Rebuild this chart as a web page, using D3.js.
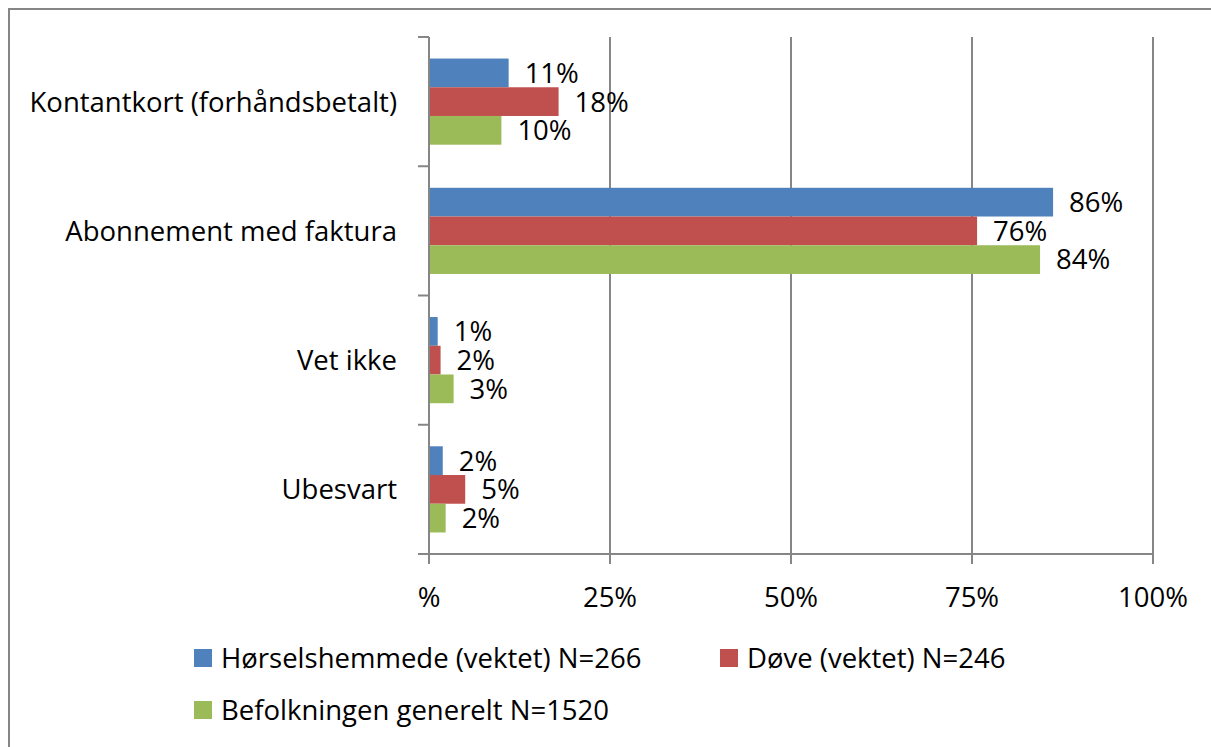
<!DOCTYPE html>
<html>
<head>
<meta charset="utf-8">
<script src="https://cdn.jsdelivr.net/npm/d3@7"></script>
<style>
  body { margin: 0; background: #fff; }
  text { font-family: "Open Sans", Lato, sans-serif; fill: #000; }
</style>
</head>
<body>
<div id="root"></div>
<script>
const categories = ['Kontantkort (forhåndsbetalt)', 'Abonnement med faktura', 'Vet ikke', 'Ubesvart']
const seriesNames = ['Hørselshemmede (vektet) N=266', 'Døve (vektet) N=246', 'Befolkningen generelt N=1520']
const seriesColors = ['#4F81BD', '#C0504D', '#9BBB59']
const horsel = [11.0, 86.2, 1.2, 1.9]
const dove = [17.9, 75.7, 1.6, 5.0]
const befolkning = [10.0, 84.4, 3.4, 2.3]
const xTicks = [0, 25, 50, 75, 100]
const xTickLabels = ['%', '25%', '50%', '75%', '100%']

const values = [horsel, dove, befolkning]

const width = 1211
const height = 747
const margin = { top: 37, right: 58, bottom: 193, left: 429 }
const fontSize = 27.5

const svg = d3.select('#root').append('svg')
  .attr('width', width)
  .attr('height', height)

// outer frame
svg.append('rect')
  .attr('x', 9).attr('y', 9)
  .attr('width', 1230).attr('height', 780)
  .attr('fill', 'none')
  .attr('stroke', '#868686')
  .attr('stroke-width', 2)

const x = d3.scaleLinear().domain([0, 100]).range([margin.left, width - margin.right])
const y = d3.scaleBand().domain(categories).range([margin.top, height - margin.bottom])
const ySub = d3.scaleBand().domain(d3.range(3)).range([0, y.bandwidth()]).paddingOuter(0.75)

const grid = '#868686'

// vertical gridlines
svg.append('g')
  .selectAll('line')
  .data(xTicks.slice(1))
  .join('line')
  .attr('x1', d => x(d)).attr('x2', d => x(d))
  .attr('y1', margin.top).attr('y2', y.range()[1] + 10)
  .attr('stroke', grid).attr('stroke-width', 2)

// bars
const rows = []
categories.forEach((c, i) => values.forEach((s, j) => rows.push({ c, j, v: s[i] })))

svg.append('g')
  .selectAll('rect')
  .data(rows)
  .join('rect')
  .attr('x', x(0))
  .attr('y', d => y(d.c) + ySub(d.j))
  .attr('width', d => x(d.v) - x(0))
  .attr('height', ySub.bandwidth())
  .attr('fill', d => seriesColors[d.j])

svg.append('g')
  .selectAll('text')
  .data(rows)
  .join('text')
  .attr('x', d => x(d.v) + 16)
  .attr('y', d => y(d.c) + ySub(d.j) + ySub.bandwidth() / 2)
  .attr('dy', '0.36em')
  .attr('font-size', fontSize)
  .text(d => Math.round(d.v) + '%')

// y axis
const yAxis = svg.append('g')
yAxis.append('line')
  .attr('x1', x(0)).attr('x2', x(0))
  .attr('y1', margin.top).attr('y2', y.range()[1] + 10)
  .attr('stroke', grid).attr('stroke-width', 2)
const yEdges = categories.map(c => y(c)).concat([y.range()[1]])
yAxis.selectAll('.tick')
  .data(yEdges)
  .join('line')
  .attr('x1', x(0) - 11).attr('x2', x(0))
  .attr('y1', d => d).attr('y2', d => d)
  .attr('stroke', grid).attr('stroke-width', 2)
yAxis.selectAll('text')
  .data(categories)
  .join('text')
  .attr('x', 397)
  .attr('y', d => y(d) + y.bandwidth() / 2)
  .attr('dy', '0.36em')
  .attr('text-anchor', 'end')
  .attr('font-size', fontSize)
  .text(d => d)

// x axis
const xAxis = svg.append('g')
xAxis.append('line')
  .attr('x1', x(0) - 11).attr('x2', x(100))
  .attr('y1', y.range()[1]).attr('y2', y.range()[1])
  .attr('stroke', grid).attr('stroke-width', 2)
xAxis.selectAll('text')
  .data(xTicks)
  .join('text')
  .attr('x', d => x(d))
  .attr('y', y.range()[1] + 43)
  .attr('dy', '0.36em')
  .attr('text-anchor', 'middle')
  .attr('font-size', fontSize)
  .text((d, i) => xTickLabels[i])

// legend
const legendPos = [[194, 658], [720, 658], [194, 710]]
const legend = svg.append('g')
  .selectAll('g')
  .data(seriesNames)
  .join('g')
  .attr('transform', (d, i) => `translate(${legendPos[i][0]},${legendPos[i][1]})`)
legend.append('rect')
  .attr('x', 0).attr('y', -9)
  .attr('width', 18).attr('height', 18)
  .attr('fill', (d, i) => seriesColors[i])
legend.append('text')
  .attr('x', 27)
  .attr('dy', '0.36em')
  .attr('font-size', fontSize)
  .text(d => d)
</script>
</body>
</html>
